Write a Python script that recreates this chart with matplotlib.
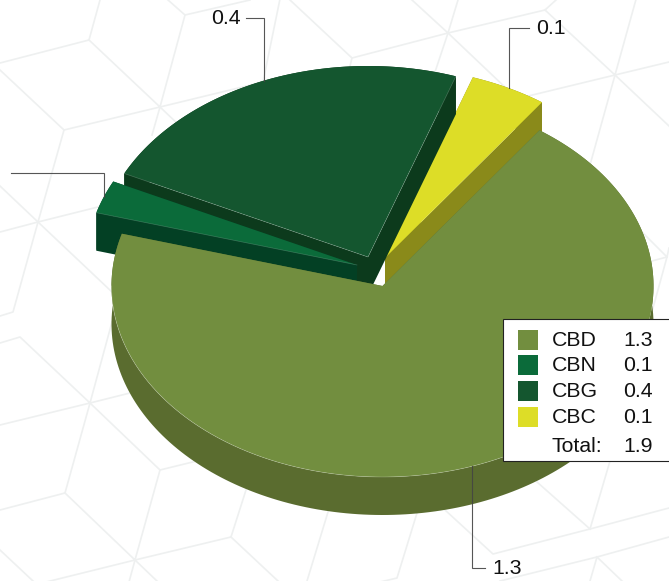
import numpy as np
import matplotlib
matplotlib.use('Agg')
import matplotlib.pyplot as plt
from matplotlib.patches import Polygon, Rectangle

plt.rcParams['font.family'] = ['Liberation Sans', 'DejaVu Sans']

# data
names = ['CBD', 'CBN', 'CBG', 'CBC']
values = [1.322, 0.053, 0.438, 0.087]
colors = ['#728e3f', '#0b6b3a', '#14562f', '#dddd27']
side_colors = ['#5a6c2f', '#034024', '#0c3a1c', '#8a8a1a']

# pie geometry in pixels
start_angle = 54.6
rx, ry = 271, 191
depth = 38
centers = [(382.5, 286), (357, 265), (368, 257), (385, 258)]
draw_order = [3, 2, 1, 0]
elbow_y = [568, 173, 18, 28]
elbow_end_x = [485, 11, 246, 529]

# faint cube pattern behind the chart
bg_lines = [
    [(0, 63), (89, 40), (100, 0)], [(89, 40), (160, 107), (64, 130), (0, 70)],
    [(64, 130), (38, 222), (13, 312), (0, 316)], [(160, 107), (185, 15), (168, 0)],
    [(185, 15), (250, 0)], [(160, 107), (263, 82), (281, -6)], [(160, 107), (180, 126)],
    [(160, 107), (152, 135)], [(0, 186), (38, 222), (112, 292)], [(0, 232), (38, 222), (98, 207)],
    [(290, 0), (352, 58), (448, 33), (458, 0)], [(352, 58), (349, 70)], [(412, 0), (448, 33), (508, 90)],
    [(448, 33), (433, 78)], [(448, 33), (545, 10), (556, 0)], [(545, 10), (615, 75), (640, -15)],
    [(520, 98), (615, 75), (669, 62)], [(615, 75), (669, 126)], [(615, 75), (590, 165)],
    [(0, 343), (20, 337), (90, 403), (112, 322)], [(90, 403), (130, 393)], [(0, 425), (90, 403), (65, 493), (0, 510)],
    [(90, 403), (160, 470), (258, 446)], [(160, 470), (135, 560), (65, 493)], [(135, 560), (231, 537), (246, 490)],
    [(135, 560), (30, 586)], [(135, 560), (158, 582)], [(135, 560), (129, 582)], [(231, 537), (278, 581)],
    [(0, 550), (33, 581)], [(328, 512), (307, 581)], [(417, 513), (397, 578), (380, 582)],
    [(445, 510), (493, 554), (590, 529), (669, 508)], [(590, 529), (610, 461)], [(590, 529), (537, 482)],
    [(500, 581), (597, 557), (669, 537)], [(597, 557), (590, 581)], [(597, 557), (622, 581)],
    [(643, 233), (667, 257), (648, 262)], [(667, 257), (669, 248)], [(667, 257), (650, 319)],
]

fig = plt.figure(figsize=(6.69, 5.81), dpi=100)
ax = fig.add_axes([0, 0, 1, 1])
ax.set_xlim(0, 669)
ax.set_ylim(581, 0)
ax.axis('off')

for line in bg_lines:
    pts = np.array(line)
    ax.plot(pts[:, 0], pts[:, 1], color='#eef0f0', lw=1.2, zorder=1)

# angles of each slice, clockwise from start_angle
total = sum(values)
sweeps = np.array(values) / total * 360
ends = start_angle - np.cumsum(sweeps)
starts = ends + sweeps


def arc(i, a0=None, a1=None):
    a0 = starts[i] if a0 is None else a0
    a1 = ends[i] if a1 is None else a1
    t = np.radians(np.linspace(a0, a1, 200))
    cx, cy = centers[i]
    return np.column_stack([cx + rx * np.cos(t), cy - ry * np.sin(t)])


z = 3
for i in draw_order:
    tip = np.array(centers[i], dtype=float)
    pts = arc(i)
    down = np.array([0, depth])
    # rim and the two cut faces first, top face goes over them
    rim = np.vstack([pts, (pts + down)[::-1]])
    ax.add_patch(Polygon(rim, color=side_colors[i], lw=0, zorder=z))
    for end in (pts[0], pts[-1]):
        face = [tip, end, end + down, tip + down]
        ax.add_patch(Polygon(face, color=side_colors[i], lw=0, zorder=z))
    top = np.vstack([tip, pts])
    ax.add_patch(Polygon(top, color=colors[i], lw=0, zorder=z + 0.5))
    # thin light seam where top face meets the side
    if names[i] == 'CBD':
        seam = arc(i, 180, 305)
        ax.plot(seam[:, 0], seam[:, 1], color='white', alpha=0.25, lw=0.5, zorder=z + 0.6)
    elif names[i] == 'CBG':
        seam = np.array([pts[-1], tip, pts[0]])
        ax.plot(seam[:, 0], seam[:, 1], color='white', alpha=0.22, lw=0.5, zorder=z + 0.6)
    elif names[i] == 'CBN':
        seam = np.array([pts[0], tip])
        ax.plot(seam[:, 0], seam[:, 1], color='white', alpha=0.2, lw=0.5, zorder=z + 0.6)
    z += 1

# leader lines and labels, the CBN label falls off the left edge
for i, name in enumerate(names):
    mid = (starts[i] + ends[i]) / 2
    p = arc(i, mid, mid)[0]
    xs = [p[0], p[0], elbow_end_x[i]]
    ys = [p[1], elbow_y[i], elbow_y[i]]
    ax.plot(xs, ys, color='#444444', lw=0.8, alpha=0.9, zorder=9, solid_joinstyle='miter')
    label = f'{values[i]:.1f}'
    if name == 'CBN':
        continue
    if elbow_end_x[i] > p[0]:
        ax.text(elbow_end_x[i] + 7.5, elbow_y[i] + 1, label, fontsize=15.3, color='#111111',
                ha='left', va='center', zorder=10)
    else:
        ax.text(elbow_end_x[i] - 5, elbow_y[i] + 1, label, fontsize=15.3, color='#111111',
                ha='right', va='center', zorder=10)

# legend box runs past the right edge
ax.add_patch(Rectangle((503, 319), 180, 142, facecolor='white', edgecolor='#222222', lw=0.8, zorder=11))
row_y = [340, 365, 391, 417]
for i, name in enumerate(names):
    ax.add_patch(Rectangle((518, row_y[i] - 10), 20, 20, facecolor=colors[i], edgecolor='none', zorder=12))
    ax.text(552, row_y[i] + 0.5, name, fontsize=15.3, color='#111111', va='center', zorder=12)
    ax.text(623.5, row_y[i] + 0.5, f'{values[i]:.1f}', fontsize=15.3, color='#111111', va='center', zorder=12)
ax.text(552, 446.5, 'Total:', fontsize=15.3, color='#111111', va='center', zorder=12)
ax.text(623.5, 446.5, f'{total:.1f}', fontsize=15.3, color='#111111', va='center', zorder=12)

fig.savefig('out.png', dpi=100)
